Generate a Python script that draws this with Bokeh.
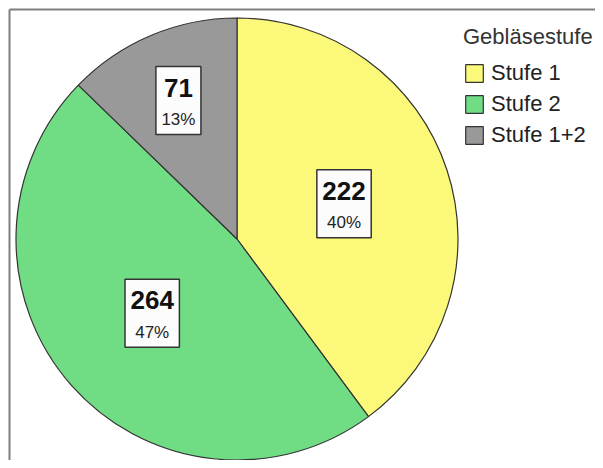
import math
from bokeh.plotting import figure
from bokeh.models import ColumnDataSource, Range1d, Legend, LegendItem
from bokeh.core.properties import value
from bokeh.embed import file_html
from bokeh.resources import INLINE

# ---- data ----
categories = ["Stufe 1", "Stufe 2", "Stufe 1+2"]
counts = [222, 264, 71]
colors = ["#FCF97A", "#70DC84", "#999999"]
legend_title = "Gebläsestufe"

# ---- layout ----
W, H = 595, 460
cx, cy, R = 236.5, 221.5, 221.0
FONT = "Liberation Sans"
FRAME = 9  # frame line offset from top-left

total = sum(counts)
starts, ends, mids = [], [], []
a = math.pi / 2
for c in counts:
    sweep = 2 * math.pi * c / total
    starts.append(a)
    ends.append(a - sweep)
    mids.append(a - sweep / 2)
    a -= sweep
pct = [f"{round(100 * c / total)}%" for c in counts]

src = ColumnDataSource(dict(start=starts, end=ends, color=colors, cat=categories))

p = figure(width=W, height=H, output_backend="svg", toolbar_location=None,
           x_range=Range1d(0, W), y_range=Range1d(0, H), min_border=0,
           outline_line_color=None)
p.axis.visible = False
p.grid.visible = False
p.background_fill_color = "white"
p.border_fill_color = "white"

# chart frame (top and left edges)
p.segment(x0=[FRAME, FRAME], y0=[-5, H - FRAME], x1=[FRAME, W + 5], y1=[H - FRAME, H - FRAME],
          line_color="#7F7F7F", line_width=2)

wr = p.wedge(x=cx, y=cy, radius=R, start_angle="end", end_angle="start",
             fill_color="color", line_color="#333333", line_width=1.2, source=src)

# label boxes
lx, ly, bw, txt_c, txt_p = [], [], [], [], []
for c, m, pc in zip(counts, mids, pct):
    frac = 0.51 if c / total > 0.2 else 0.68
    lx.append(cx + frac * R * math.cos(m))
    ly.append(cy + frac * R * math.sin(m))
    w_count = len(str(c)) * 0.556 * 26
    w_pct = ((len(pc) - 1) * 0.556 + 0.889) * 17
    bw.append(max(w_count, w_pct) + 11)
    txt_c.append(str(c))
    txt_p.append(pc)

lsrc = ColumnDataSource(dict(x=lx, y=ly, w=bw, tc=txt_c, tp=txt_p))
p.rect(x="x", y="y", width="w", height=68, source=lsrc, fill_color="#FCFCFC",
       line_color="#333333", line_width=1.5)
p.text(x="x", y="y", text="tc", source=lsrc, text_font=value(FONT),
       text_font_style="bold", text_font_size="26px", text_align="center",
       text_baseline="middle", y_offset=-13, text_color="#111111")
p.text(x="x", y="y", text="tp", source=lsrc, text_font=value(FONT),
       text_font_size="17px", text_align="center", text_baseline="middle",
       y_offset=19, text_color="#222222")

items = [LegendItem(label=cat, renderers=[wr], index=i) for i, cat in enumerate(categories)]
legend = Legend(items=items, location=(463, 312), title=legend_title,
                title_text_font=FONT, title_text_font_size="22px",
                title_text_font_style="normal", title_text_color="#333333",
                title_standoff=10,
                label_text_font=FONT, label_text_font_size="22px",
                label_text_color="#222222", label_standoff=6,
                glyph_width=22, glyph_height=22, label_height=22, spacing=5,
                padding=0, margin=0, border_line_color=None,
                background_fill_alpha=0)
p.add_layout(legend)

open("out.html", "w").write(file_html(p, INLINE))
